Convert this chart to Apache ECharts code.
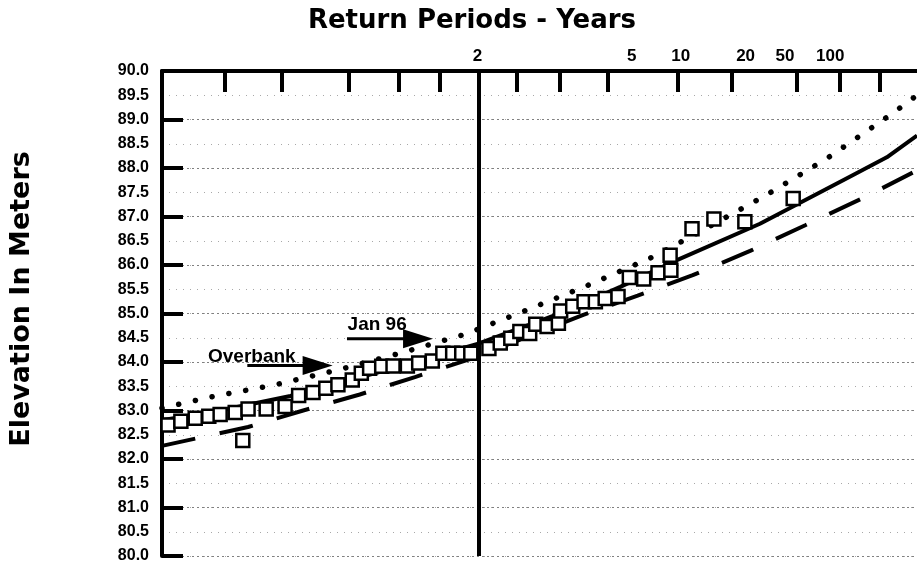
<!DOCTYPE html>
<html><head><meta charset="utf-8">
<script src="https://cdn.jsdelivr.net/npm/echarts@6/dist/echarts.min.js"></script>
<style>html,body{margin:0;padding:0;background:#fff}#c{width:917px;height:564px}</style>
</head><body><div id="c"></div>
<script>
// x is a position on the probability (return-period) paper, 0..100 across the plot
const returnPeriodLabels = ['2', '5', '10', '20', '50', '100'];
const returnPeriodPos = [41.8, 62.2, 68.7, 77.3, 82.5, 88.5];
const topTickPos = [8.3, 15.9, 24.8, 31.3, 36.8, 41.9, 47.0, 52.7, 59.1, 68.3, 75.4, 84.1, 89.8, 95.1];
const twoYearPos = 41.9;

const obsX = [0.8, 2.5, 4.4, 6.2, 7.7, 9.7, 10.7, 11.4, 13.8, 16.3, 18.1, 20.0, 21.7, 23.3, 25.2, 26.4, 27.5, 29.1, 30.6, 32.5,
  34.0, 35.8, 37.2, 38.5, 39.7, 40.9, 43.3, 44.8, 46.2, 47.4, 48.7, 49.5, 51.0, 52.5, 52.8, 54.4, 55.9, 57.4, 58.7, 60.4,
  61.9, 63.8, 65.7, 67.4, 67.3, 70.2, 73.1, 77.2, 83.6];
const obsY = [82.70, 82.78, 82.84, 82.88, 82.92, 82.96, 82.38, 83.03, 83.03, 83.08, 83.31, 83.37, 83.46, 83.53, 83.63, 83.77, 83.87, 83.91, 83.92, 83.92,
  83.98, 84.02, 84.18, 84.18, 84.18, 84.18, 84.28, 84.39, 84.49, 84.63, 84.59, 84.78, 84.73, 84.80, 85.05, 85.15, 85.24, 85.24, 85.31, 85.35,
  85.74, 85.71, 85.84, 85.89, 86.20, 86.75, 86.95, 86.89, 87.37];

const fitX = [0, 7.7, 17.0, 28.9, 41.9, 52.7, 60.7, 68.2, 79.2, 91.1, 96.0, 100];
const fitY = [82.80, 83.00, 83.30, 83.80, 84.38, 85.00, 85.55, 86.10, 86.85, 87.82, 88.22, 88.67];

const upperX = [0, 6.5, 15.0, 23.4, 31.5, 40.1, 48.3, 56.7, 65.2, 71.4, 79.9, 88.2, 96.7, 100];
const upperY = [83.05, 83.28, 83.53, 83.84, 84.18, 84.57, 85.07, 85.60, 86.18, 86.70, 87.43, 88.21, 89.12, 89.50];

const lowerX = [0, 11.4, 18.7, 26.2, 33.5, 41.2, 55.8, 63.0, 70.3, 77.9, 85.2, 92.7, 100];
const lowerY = [82.27, 82.66, 83.00, 83.33, 83.69, 84.08, 84.97, 85.37, 85.79, 86.29, 86.82, 87.37, 87.95];

const noteTexts = ['Overbank', 'Jan 96'];
const noteTextX = [11.9, 28.5];
const noteTextY = [84.11, 84.77];
const arrowX0 = [11.3, 24.5];
const arrowX1 = [22.6, 35.9];
const arrowY = [83.93, 84.48];

const zip = (xs, ys) => xs.map((x, i) => [x, ys[i]]);
const chart = echarts.init(document.getElementById('c'));
const bold = 'bold';

chart.setOption({
  animation: false,
  backgroundColor: '#fff',
  grid: { left: 162, right: 0, top: 71, bottom: 7 },
  xAxis: [{
    type: 'value', position: 'top', min: 0, max: 100,
    axisLine: { show: true, lineStyle: { color: '#000', width: 4 } },
    axisTick: { show: true, inside: true, length: 21, customValues: topTickPos, lineStyle: { color: '#000', width: 4 } },
    axisLabel: {
      show: true, margin: 6, customValues: returnPeriodPos,
      formatter: v => { let k = 0; returnPeriodPos.forEach((p, i) => { if (Math.abs(p - v) < Math.abs(returnPeriodPos[k] - v)) k = i; }); return returnPeriodLabels[k]; },
      color: '#000', fontFamily: 'Liberation Sans', fontWeight: bold, fontSize: 17
    },
    splitLine: { show: false }
  }],
  yAxis: [{
    type: 'value', min: 80, max: 90, interval: 0.5,
    axisLine: { show: true, lineStyle: { color: '#000', width: 4 } },
    axisTick: { show: false },
    axisLabel: { margin: 13, color: '#000', fontFamily: 'Liberation Sans', fontWeight: bold, fontSize: 16, formatter: v => v.toFixed(1) },
    splitLine: { show: true, lineStyle: { color: '#a8a8a8', width: 1, type: [1, 6] } }
  }, {
    type: 'value', min: 80, max: 90, interval: 1, position: 'left',
    axisLine: { show: false },
    axisLabel: { show: false },
    axisTick: { show: true, inside: true, length: 21, lineStyle: { color: '#000', width: 4 } },
    splitLine: { show: true, lineStyle: { color: '#808080', width: 1, type: [2, 3] } }
  }],
  series: [{
    type: 'line', data: zip(lowerX, lowerY), symbol: 'none', z: 3,
    lineStyle: { color: '#000', width: 4, type: [34, 25] }
  }, {
    type: 'line', data: zip(upperX, upperY), symbol: 'none', z: 3,
    lineStyle: { color: '#000', width: 5.5, type: [0.1, 17], cap: 'round' }
  }, {
    type: 'line', data: zip(fitX, fitY), symbol: 'none', z: 3,
    lineStyle: { color: '#000', width: 4 },
    markLine: {
      silent: true, symbol: 'none', label: { show: false }, z: 10,
      lineStyle: { color: '#000', width: 4, type: 'solid' },
      data: [{ xAxis: twoYearPos }]
    }
  }, {
    type: 'scatter', data: zip(obsX, obsY), symbol: 'rect', symbolSize: 13, z: 5,
    itemStyle: { color: '#fff', borderColor: '#000', borderWidth: 2.5, opacity: 1 }
  }]
});

const px = (x, y) => chart.convertToPixel({ gridIndex: 0 }, [x, y]);
const g = [];
g.push({ type: 'text', x: 472, y: 21, style: { text: 'Return Periods - Years', font: 'bold 26px "DejaVu Sans"', fill: '#000', textAlign: 'center', textVerticalAlign: 'middle' } });
g.push({ type: 'text', x: 22, y: 299, rotation: Math.PI / 2, style: { text: 'Elevation In Meters', font: 'bold 27px "DejaVu Sans"', fill: '#000', textAlign: 'center', textVerticalAlign: 'middle' } });
noteTexts.forEach((t, i) => {
  const tp = px(noteTextX[i], noteTextY[i]);
  g.push({ type: 'text', x: tp[0], y: tp[1], z: 20, style: { text: t, font: 'bold 19px "Liberation Sans"', fill: '#000', textAlign: 'center', textVerticalAlign: 'middle' } });
  const a = px(arrowX0[i], arrowY[i]);
  const b = px(arrowX1[i], arrowY[i]);
  const headLen = 30, half = 9.5;
  g.push({ type: 'line', z: 20, shape: { x1: a[0], y1: a[1], x2: b[0] - headLen + 2, y2: b[1] }, style: { stroke: '#000', lineWidth: 3 } });
  g.push({ type: 'polygon', z: 20, shape: { points: [[b[0] - headLen, b[1] - half], [b[0], b[1]], [b[0] - headLen, b[1] + half]] }, style: { fill: '#000' } });
});
chart.setOption({ graphic: g });
</script>
</body></html>
